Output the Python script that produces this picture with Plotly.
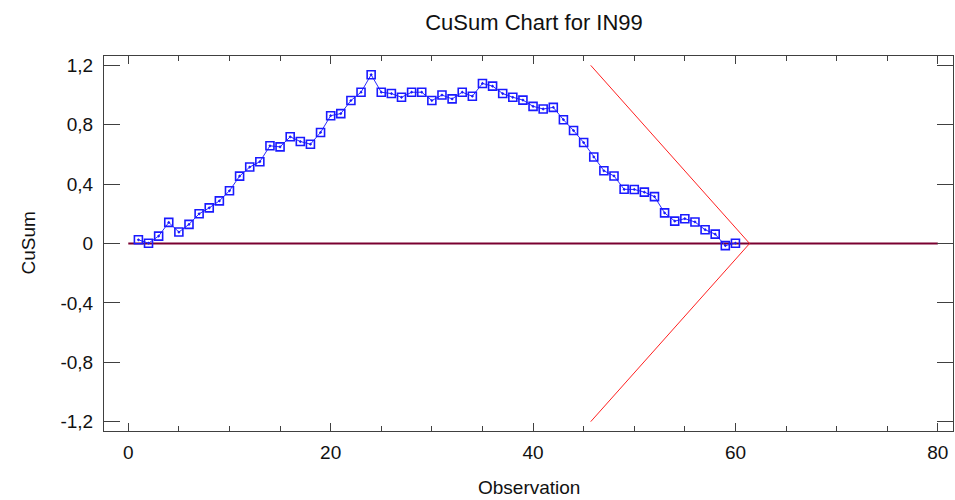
import plotly.graph_objects as go

# Data
observations = list(range(1, 61))
cusum = [0.025, 0.002, 0.05, 0.142, 0.077, 0.129, 0.20, 0.24, 0.287, 0.355,
         0.454, 0.515, 0.551, 0.658, 0.651, 0.719, 0.687, 0.669, 0.748, 0.861,
         0.875, 0.963, 1.019, 1.137, 1.019, 1.01, 0.985, 1.019, 1.019, 0.963,
         1.0, 0.974, 1.019, 0.992, 1.078, 1.06, 1.01, 0.985, 0.966, 0.924,
         0.906, 0.917, 0.834, 0.761, 0.68, 0.583, 0.49, 0.455, 0.365, 0.364,
         0.346, 0.316, 0.206, 0.151, 0.167, 0.145, 0.093, 0.063, -0.014, 0.002]

# V-mask arms
vmask_x = [45.7, 61.4, 45.7]
vmask_y = [1.2, 0.0, -1.2]

# Centre line
center_x = [0, 80]
center_y = [0, 0]

# Tick labels
y_tickvals = [-1.2, -0.8, -0.4, 0, 0.4, 0.8, 1.2]
y_ticktext = ["-1,2", "-0,8", "-0,4", "0", "0,4", "0,8", "1,2"]
x_tickvals = [0, 20, 40, 60, 80]
x_ticktext = ["0", "20", "40", "60", "80"]

FONT = "Liberation Sans, Arial, sans-serif"

fig = go.Figure()
fig.add_trace(go.Scatter(x=center_x, y=center_y, mode="lines",
                         line=dict(color="#7a0030", width=2),
                         hoverinfo="skip", showlegend=False))
fig.add_trace(go.Scatter(x=vmask_x, y=vmask_y, mode="lines",
                         line=dict(color="#ff2020", width=1),
                         hoverinfo="skip", showlegend=False))
fig.add_trace(go.Scatter(x=observations, y=cusum, mode="lines+markers",
                         line=dict(color="#2a2aff", width=1),
                         marker=dict(symbol="square-open-dot", size=8,
                                     color="#1a1aff", line=dict(width=1.6)),
                         showlegend=False))

axis_common = dict(showgrid=False, zeroline=False, showline=True,
                   linecolor="#404040", linewidth=1, mirror="allticks",
                   ticks="inside", tickcolor="#404040",
                   tickfont=dict(family=FONT, size=19, color="#111"))

fig.update_layout(
    width=955, height=500,
    margin=dict(l=104, r=2, t=56, b=69),
    plot_bgcolor="white", paper_bgcolor="white",
    title=dict(text="CuSum Chart for IN99", x=534 / 955, xanchor="center",
               y=1 - 22 / 500, yanchor="middle", yref="container",
               font=dict(family=FONT, size=22, color="#111")),
    xaxis=dict(range=[-2.4, 81.5], tickvals=x_tickvals, ticktext=x_ticktext,
               ticklen=8, ticklabelstandoff=4,
               minor=dict(dtick=5, tick0=0, ticks="inside",
                          ticklen=5, tickcolor="#404040"),
               **axis_common),
    yaxis=dict(range=[-1.263, 1.263], tickvals=y_tickvals, ticktext=y_ticktext,
               ticklen=16, ticklabelstandoff=6, **axis_common),
    annotations=[
        dict(text="Observation", xref="paper", yref="paper", x=0.5, y=-57 / 375,
             xanchor="center", yanchor="middle", showarrow=False,
             font=dict(family=FONT, size=19, color="#111")),
        dict(text="CuSum", xref="paper", yref="paper", x=(28 - 104) / 849,
             y=0.5, textangle=-90, xanchor="center", yanchor="middle",
             showarrow=False, font=dict(family=FONT, size=19, color="#111")),
    ],
)

fig.write_html("out.html")
